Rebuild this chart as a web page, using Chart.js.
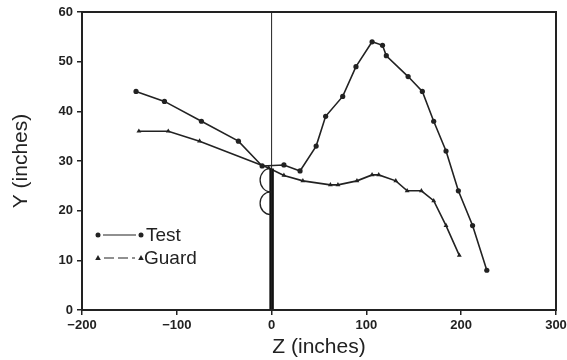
<!DOCTYPE html>
<html>
<head>
<meta charset="utf-8">
<script src="https://cdn.jsdelivr.net/npm/chart.js@4.4.0/dist/chart.umd.min.js"></script>
<style>
  html, body { margin: 0; padding: 0; background: #fff; }
  #wrap { width: 567px; height: 360px; }
</style>
</head>
<body>
<div id="wrap"><canvas id="c" width="567" height="360"></canvas></div>
<script>
// ---- data ----
const testZ  = [-143, -113, -74, -35, -10, 13, 30, 47, 57, 75, 89, 106, 117, 121, 144, 159, 171, 184, 197, 212, 227];
const testY  = [44, 42, 38, 34, 29, 29.2, 28, 33, 39, 43, 49, 54, 53.3, 51.2, 47, 44, 38, 32, 24, 17, 8];
const guardZ = [-140, -109, -76, -3, 13, 33, 62, 70, 90, 106, 113, 131, 143, 158, 171, 184, 198];
const guardY = [36, 36, 34, 28.6, 27.1, 26, 25.2, 25.2, 26, 27.2, 27.2, 26, 24, 24, 22, 17, 11];
const poleZ  = [0, 0];
const poleY  = [0, 28.5];
const dividerZ = [0, 0];
const dividerY = [0, 60];
const xTicks = [-200, -100, 0, 100, 200, 300];
const yTicks = [0, 10, 20, 30, 40, 50, 60];
const legendLabels = ['Test', 'Guard'];

const pts = (xs, ys) => xs.map((x, i) => ({ x: x, y: ys[i] }));
const INK = '#222';
const FONT = '"Liberation Sans", Arial, sans-serif';

// frame + pole lobes + legend
const deco = {
  id: 'deco',
  afterDatasetsDraw(chart) {
    const { ctx, chartArea: a, scales: { x, y } } = chart;
    ctx.save();
    // frame
    ctx.strokeStyle = INK;
    ctx.lineWidth = 2;
    ctx.strokeRect(a.left, a.top, a.right - a.left, a.bottom - a.top);
    // two lobes on the pole (B shape)
    ctx.lineWidth = 1.3;
    const px = x.getPixelForValue(0) - 1;
    const lobes = [[28.5, 23.8], [23.8, 19.2]];
    lobes.forEach(([t, b]) => {
      const yt = y.getPixelForValue(t), yb = y.getPixelForValue(b);
      const cy = (yt + yb) / 2, ry = (yb - yt) / 2;
      ctx.beginPath();
      ctx.ellipse(px, cy, 10.5, ry, 0, Math.PI / 2, Math.PI * 1.5);
      ctx.stroke();
    });
    // legend
    const lx1 = a.left + 16, lx2 = a.left + 59;
    const rows = [a.top + 223, a.top + 246];
    ctx.lineWidth = 1.2;
    ctx.fillStyle = INK;
    // Test row
    ctx.setLineDash([]);
    ctx.beginPath(); ctx.moveTo(lx1 + 5, rows[0]); ctx.lineTo(lx2 - 5, rows[0]); ctx.stroke();
    [lx1, lx2].forEach(cx => { ctx.beginPath(); ctx.arc(cx, rows[0], 2.5, 0, Math.PI * 2); ctx.fill(); });
    // Guard row
    ctx.setLineDash([10, 4]);
    ctx.beginPath(); ctx.moveTo(lx1 + 6, rows[1]); ctx.lineTo(lx2 - 6, rows[1]); ctx.stroke();
    ctx.setLineDash([]);
    [lx1, lx2].forEach(cx => {
      ctx.beginPath(); ctx.moveTo(cx, rows[1] - 3); ctx.lineTo(cx + 2.8, rows[1] + 2); ctx.lineTo(cx - 2.8, rows[1] + 2); ctx.closePath(); ctx.fill();
    });
    ctx.font = '19px ' + FONT;
    ctx.textBaseline = 'middle';
    ctx.textAlign = 'left';
    ctx.fillText(legendLabels[0], lx2 + 5, rows[0] + 1);
    ctx.fillText(legendLabels[1], lx2 + 3, rows[1] + 1);
    ctx.restore();
  }
};

new Chart(document.getElementById('c'), {
  type: 'scatter',
  data: {
    datasets: [
      { label: 'divider', data: pts(dividerZ, dividerY), showLine: true, borderColor: INK, borderWidth: 1, pointRadius: 0 },
      { label: 'pole', data: pts(poleZ, poleY), showLine: true, borderColor: '#111', borderWidth: 4.5, pointRadius: 0 },
      { label: 'Test', data: pts(testZ, testY), showLine: true, borderColor: INK, borderWidth: 1.6,
        pointStyle: 'circle', pointRadius: 2.6, pointBackgroundColor: INK, pointBorderWidth: 0 },
      { label: 'Guard', data: pts(guardZ, guardY), showLine: true, borderColor: INK, borderWidth: 1.6,
        pointStyle: 'triangle', pointRadius: 2.8, pointBackgroundColor: INK, pointBorderWidth: 0 }
    ]
  },
  options: {
    responsive: false,
    animation: false,
    devicePixelRatio: 1,
    layout: { padding: { top: 12, right: 11, left: 9, bottom: 0 } },
    plugins: { legend: { display: false }, tooltip: { enabled: false } },
    scales: {
      x: {
        type: 'linear', min: -200, max: 300,
        afterBuildTicks: s => { s.ticks = xTicks.map(v => ({ value: v })); },
        afterFit: s => { s.height = 50; s.paddingLeft = 0; s.paddingRight = 0; },
        grid: { drawOnChartArea: false, drawTicks: true, tickLength: 5, color: INK, lineWidth: 1.5 },
        border: { display: true, color: INK, width: 2 },
        ticks: { color: '#222', padding: 3, font: { family: FONT, size: 13, weight: 'bold' },
                 callback: v => (v < 0 ? '\u2212' + Math.abs(v) : String(v)), maxRotation: 0 },
        title: { display: true, text: 'Z (inches)', color: '#222', font: { family: FONT, size: 21 }, padding: { top: 0, bottom: 0 } }
      },
      y: {
        type: 'linear', min: 0, max: 60,
        afterBuildTicks: s => { s.ticks = yTicks.map(v => ({ value: v })); },
        afterFit: s => { s.width = 73; s.paddingTop = 0; s.paddingBottom = 0; },
        grid: { drawOnChartArea: false, drawTicks: true, tickLength: 5, color: INK, lineWidth: 1.5 },
        border: { display: true, color: INK, width: 2 },
        ticks: { color: '#222', padding: 4, font: { family: FONT, size: 13, weight: 'bold' } },
        title: { display: true, text: 'Y (inches)', color: '#222', font: { family: FONT, size: 21 }, padding: { top: 0, bottom: 0 } }
      }
    }
  },
  plugins: [deco]
});
</script>
</body>
</html>
